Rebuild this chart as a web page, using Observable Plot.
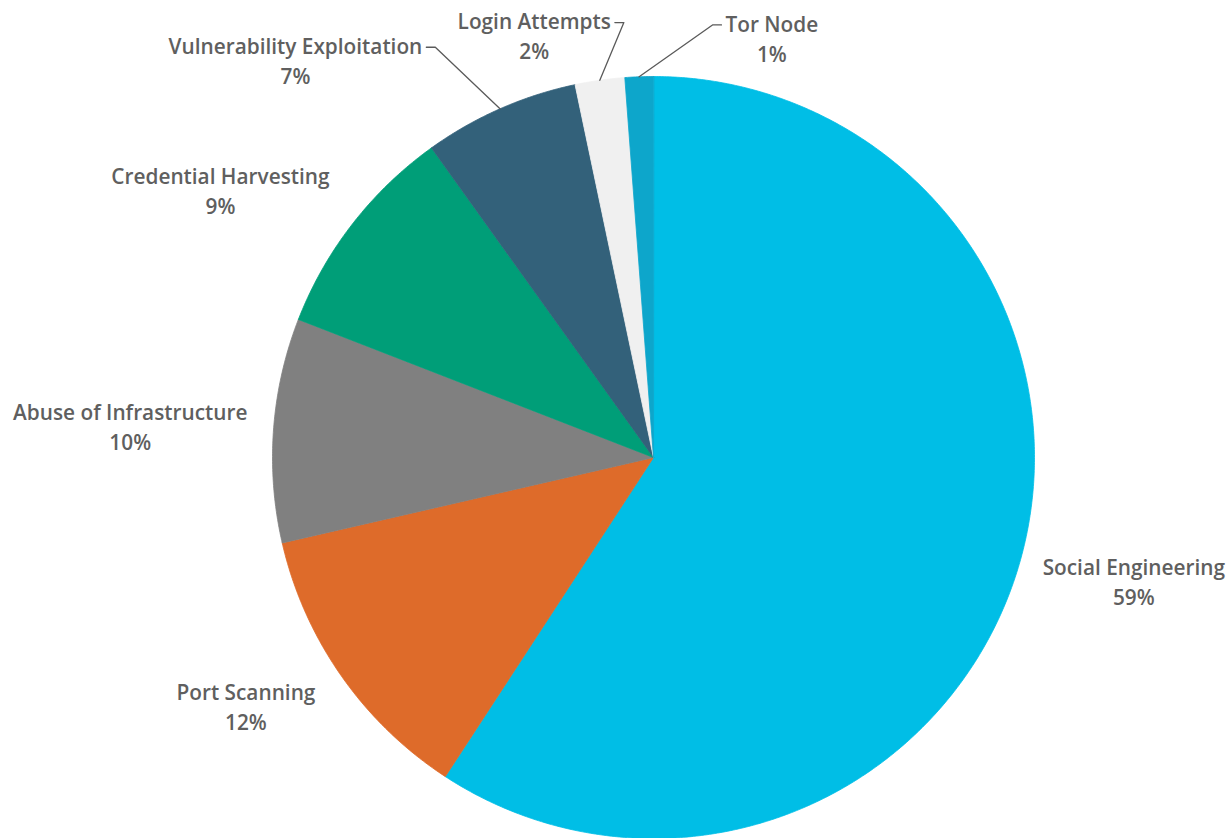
<!DOCTYPE html>
<html><head><meta charset="utf-8">
<script src="https://cdn.jsdelivr.net/npm/d3@7"></script>
<script src="https://cdn.jsdelivr.net/npm/@observablehq/plot@0.6"></script>
<style>
html,body{margin:0;padding:0;background:#fff}
#chart{width:1232px;height:838px;overflow:hidden}
</style>
</head><body><div id="chart"></div>
<script>
// ---- data ----
const categories = ["Social Engineering", "Port Scanning", "Abuse of Infrastructure", "Credential Harvesting", "Vulnerability Exploitation", "Login Attempts", "Tor Node"];
const shares = [59.2, 12.2, 9.5, 9.2, 6.6, 2.1, 1.2];
const colors = ["#00BEE6", "#DE6B2A", "#808080", "#009E78", "#33617A", "#F0F0F0", "#0DA6CB"];

// ---- layout (label placement, in degrees clockwise from 12 o'clock and radius multiples) ----
const labelAngle = [105.9, 235.1, 276.2, 310.9, 330.6, 354.4, 9.45];
const labelRadius = [1.062, 1.082, 1.072, 1.125, 1.236, 1.147, 1.151];

const W = 1232, H = 838, CX = 653, CY = 457, R = 381;
const FONT_SIZE = 20.8, FONT_WEIGHT = 600, FONT = "'Open Sans', 'Noto Sans', sans-serif";
const LINE_GAP = 30;
const TEXT_COLOR = "#5f5f5f";

const total = d3.sum(shares);
const rad = (deg) => deg * Math.PI / 180;
const pt = (deg, r) => [Math.sin(rad(deg)) * r, -Math.cos(rad(deg)) * r];

// slice polygons
const slicePts = [];
const meta = [];
let acc = 0;
categories.forEach((name, i) => {
  const a0 = acc / total * 360;
  acc += shares[i];
  const a1 = acc / total * 360;
  meta.push({name, a0, a1, mid: (a0 + a1) / 2, value: shares[i]});
  slicePts.push({name, x: 0, y: 0});
  const n = Math.max(2, Math.ceil((a1 - a0) / 0.4));
  for (let k = 0; k <= n; k++) {
    const [x, y] = pt(a0 + (a1 - a0) * k / n, 1);
    slicePts.push({name, x, y});
  }
});

// label measurement
const ctx = document.createElement("canvas").getContext("2d");
ctx.font = `${FONT_WEIGHT} ${FONT_SIZE}px ${FONT}`;

const labels = [];
const connectors = [];
meta.forEach((m, i) => {
  const [ax, ay] = pt(labelAngle[i], labelRadius[i]);
  const right = (labelAngle[i] % 360) < 180;
  const w = ctx.measureText(m.name).width;
  const xc = right ? ax + (w / 2) / R : ax - (w / 2) / R;
  labels.push({name: m.name, pct: Math.round(m.value) + "%", x: xc, y: ay});
  if (m.value / total < 0.08) {
    const s = right ? -1 : 1;
    const [ex, ey] = pt(m.mid, 1);
    connectors.push({name: m.name, x: ex, y: ey});
    connectors.push({name: m.name, x: ax + s * 13 / R, y: ay});
    connectors.push({name: m.name, x: ax + s * 4 / R, y: ay});
  }
});

const chart = Plot.plot({
  width: W,
  height: H,
  margin: 0,
  style: {fontFamily: FONT, background: "#fff", overflow: "visible"},
  x: {domain: [-1, 1], range: [CX - R, CX + R], axis: null},
  y: {domain: [-1, 1], range: [CY - R, CY + R], axis: null},
  color: {domain: categories, range: colors},
  marks: [
    Plot.line(slicePts, {x: "x", y: "y", z: "name", fill: "name", stroke: "name", strokeWidth: 0.8, curve: "linear-closed"}),
    Plot.line(connectors, {x: "x", y: "y", z: "name", stroke: "#5a5a5a", strokeWidth: 1.3, curve: "linear"}),
    Plot.text(labels, {x: "x", y: "y", text: "name", fill: TEXT_COLOR, fontSize: FONT_SIZE, fontWeight: FONT_WEIGHT, textAnchor: "middle"}),
    Plot.text(labels, {x: "x", y: "y", text: "pct", dy: LINE_GAP, fill: TEXT_COLOR, fontSize: FONT_SIZE, fontWeight: FONT_WEIGHT, textAnchor: "middle"})
  ]
});
document.getElementById("chart").appendChild(chart);
</script>
</body></html>
